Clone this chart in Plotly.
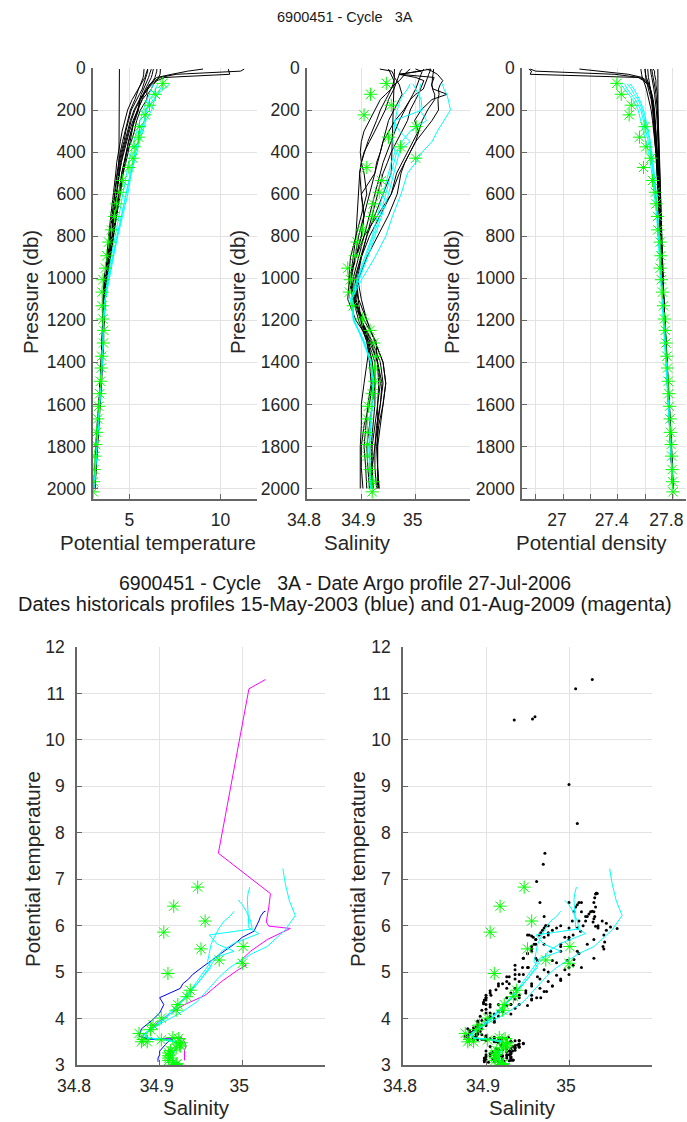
import plotly.graph_objects as go

W, H = 687, 1122

# ---------------- data ----------------
P_HIST = [5, 15, 30, 45, 60, 80, 100, 125, 150, 200, 250, 300, 350, 400, 450, 500,
          600, 700, 800, 900, 1000, 1100, 1200, 1300, 1400, 1500, 1600, 1700, 1800, 1900, 2000]

H1_T = [6.0, 6.0, 5.95, 5.9, 5.85, 5.8, 5.7, 5.55, 5.4, 5.1, 4.95, 4.8, 4.7, 4.55, 4.45, 4.35,
        4.2, 4.05, 3.9, 3.78, 3.65, 3.58, 3.55, 3.52, 3.47, 3.4, 3.33, 3.26, 3.2, 3.13, 3.08]
H1_S = [34.975, 34.972, 34.97, 34.968, 34.966, 34.964, 34.96, 34.955, 34.95, 34.944, 34.935, 34.925, 34.915, 34.905, 34.9, 34.897,
        34.9, 34.905, 34.9, 34.89, 34.88, 34.885, 34.895, 34.91, 34.92, 34.925, 34.92, 34.915, 34.91, 34.912, 34.915]
H1_D = [27.62, 27.62, 27.62, 27.625, 27.63, 27.635, 27.64, 27.645, 27.65, 27.66, 27.665, 27.67, 27.675, 27.68, 27.685, 27.69,
        27.697, 27.705, 27.712, 27.718, 27.724, 27.732, 27.74, 27.75, 27.758, 27.766, 27.774, 27.782, 27.79, 27.797, 27.803]

H2_T = [6.7, 6.7, 6.68, 6.6, 6.5, 6.3, 6.2, 6.0, 5.95, 5.6, 5.4, 5.27, 5.1, 4.85, 4.7, 4.58,
        4.45, 4.28, 4.1, 3.92, 3.78, 3.68, 3.62, 3.58, 3.52, 3.45, 3.38, 3.3, 3.22, 3.15, 3.09]
H2_S = [35.033, 35.033, 35.032, 35.031, 35.03, 35.03, 35.031, 35.035, 35.035, 35.022, 35.012, 35.006, 35.0, 34.99, 34.98, 34.973,
        34.966, 34.95, 34.93, 34.91, 34.895, 34.89, 34.9, 34.92, 34.935, 34.94, 34.935, 34.928, 34.925, 34.925, 34.928]
H2_D = [27.57, 27.57, 27.575, 27.58, 27.59, 27.6, 27.61, 27.62, 27.63, 27.645, 27.655, 27.665, 27.672, 27.68, 27.686, 27.69,
        27.698, 27.706, 27.713, 27.72, 27.727, 27.735, 27.744, 27.753, 27.761, 27.769, 27.777, 27.785, 27.792, 27.799, 27.805]

# historical profile 15-May-2003 (blue)
HB_T = [6.31, 6.3, 6.25, 6.2, 6.1, 6.0, 5.88, 5.75, 5.6, 5.45, 5.25, 5.1, 4.95, 4.85, 4.75, 4.65,
        4.45, 4.3, 4.12, 3.95, 3.78, 3.62, 3.55, 3.56, 3.5, 3.4, 3.3, 3.22, 3.15, 3.1, 3.07]
HB_S = [35.028, 35.026, 35.024, 35.022, 35.02, 35.017, 35.014, 35.0, 34.99, 34.978, 34.962, 34.951, 34.94, 34.935, 34.928, 34.925,
        34.9, 34.905, 34.9, 34.89, 34.878, 34.875, 34.89, 34.916, 34.91, 34.905, 34.9, 34.9, 34.898, 34.898, 34.898]
HB_D = [27.6, 27.6, 27.6, 27.605, 27.61, 27.615, 27.625, 27.635, 27.645, 27.655, 27.66, 27.667, 27.673, 27.68, 27.686, 27.69,
        27.696, 27.704, 27.711, 27.718, 27.725, 27.732, 27.74, 27.75, 27.757, 27.765, 27.773, 27.781, 27.789, 27.796, 27.802]

# historical profile 01-Aug-2009 (magenta)
HM_T = [11.3, 11.1, 7.56, 6.69, 6.4, 6.08, 5.99, 5.94, 5.7, 5.45, 5.25, 5.15, 5.05, 4.93, 4.8, 4.65,
        4.5, 4.3, 4.02, 3.8, 3.6, 3.55, 3.57, 3.59, 3.5, 3.4, 3.32, 3.25, 3.18, 3.13, 3.1]
HM_S = [35.028, 35.008, 34.971, 35.034, 35.032, 35.029, 35.032, 35.058, 35.03, 35.01, 34.998, 35.005, 34.995, 34.985, 34.975, 34.965,
        34.955, 34.93, 34.905, 34.89, 34.878, 34.885, 34.905, 34.927, 34.93, 34.932, 34.93, 34.93, 34.93, 34.93, 34.93]
HM_D = [26.76, 26.8, 27.38, 27.56, 27.6, 27.63, 27.64, 27.645, 27.655, 27.665, 27.672, 27.678, 27.683, 27.688, 27.692, 27.696,
        27.702, 27.708, 27.714, 27.72, 27.728, 27.736, 27.745, 27.754, 27.762, 27.77, 27.778, 27.786, 27.793, 27.8, 27.806]

H5_T = [10.43, 10.45, 10.5, 6.95, 6.5, 6.2, 6.0, 5.8, 5.6, 5.3, 5.1, 4.95, 4.8, 4.65, 4.55, 4.45,
        4.3, 4.12, 3.96, 3.82, 3.7, 3.62, 3.58, 3.55, 3.5, 3.43, 3.36, 3.28, 3.2, 3.14, 3.08]
H5_S = [34.934, 34.956, 34.959, 34.961, 34.965, 34.97, 34.972, 34.975, 34.97, 34.96, 34.95, 34.945, 34.94, 34.935, 34.93, 34.925,
        34.915, 34.905, 34.895, 34.888, 34.882, 34.888, 34.9, 34.915, 34.93, 34.938, 34.935, 34.93, 34.925, 34.92, 34.92]
H5_D = [26.75, 26.77, 26.76, 27.55, 27.59, 27.62, 27.635, 27.645, 27.655, 27.665, 27.67, 27.676, 27.682, 27.687, 27.691, 27.695,
        27.701, 27.708, 27.714, 27.72, 27.726, 27.734, 27.743, 27.752, 27.76, 27.768, 27.776, 27.784, 27.791, 27.798, 27.804]

H6_T = [9.04, 8.2, 7.32, 6.5, 6.3, 6.1, 5.95, 5.8, 5.7, 5.45, 5.2, 5.0, 4.85, 4.7, 4.55, 4.45,
        4.3, 4.15, 4.0, 3.85, 3.72, 3.63, 3.58, 3.56, 3.52, 3.46, 3.38, 3.3, 3.22, 3.15, 3.1]
H6_S = [35.0, 35.01, 34.969, 35.0, 35.015, 35.012, 35.01, 35.005, 35.0, 34.99, 34.985, 34.975, 34.965, 34.955, 34.948, 34.94,
        34.93, 34.92, 34.91, 34.9, 34.893, 34.9, 34.91, 34.925, 34.94, 34.945, 34.94, 34.932, 34.928, 34.93, 34.932]
H6_D = [27.12, 27.25, 27.48, 27.58, 27.61, 27.63, 27.64, 27.65, 27.655, 27.665, 27.672, 27.678, 27.684, 27.69, 27.694, 27.698,
        27.704, 27.71, 27.716, 27.722, 27.729, 27.737, 27.746, 27.755, 27.763, 27.771, 27.779, 27.787, 27.794, 27.8, 27.806]

H7_T = [6.0, 5.95, 5.9, 5.85, 5.75, 5.6, 5.45, 5.3, 5.15, 4.9, 4.75, 4.6, 4.5, 4.4, 4.3, 4.25,
        4.1, 3.98, 3.86, 3.75, 3.63, 3.56, 3.53, 3.5, 3.46, 3.4, 3.33, 3.25, 3.18, 3.12, 3.06]
H7_S = [34.99, 34.985, 34.98, 34.975, 34.97, 34.96, 34.955, 34.945, 34.935, 34.925, 34.915, 34.905, 34.9, 34.898, 34.9, 34.905,
        34.91, 34.9, 34.89, 34.88, 34.877, 34.885, 34.9, 34.912, 34.92, 34.92, 34.915, 34.905, 34.9, 34.9, 34.903]
H7_D = [27.65, 27.65, 27.655, 27.66, 27.665, 27.67, 27.675, 27.68, 27.685, 27.69, 27.695, 27.698, 27.701, 27.704, 27.707, 27.71,
        27.714, 27.718, 27.722, 27.726, 27.73, 27.737, 27.745, 27.753, 27.76, 27.767, 27.775, 27.782, 27.789, 27.796, 27.802]

H8_T = [6.5, 6.5, 6.45, 6.4, 6.3, 6.1, 5.95, 5.75, 5.55, 5.25, 5.05, 4.9, 4.75, 4.6, 4.5, 4.42,
        4.28, 4.15, 4.0, 3.86, 3.74, 3.66, 3.6, 3.56, 3.5, 3.42, 3.35, 3.28, 3.2, 3.14, 3.08]
H8_S = [35.015, 35.012, 35.01, 35.008, 35.006, 35.004, 35.0, 34.995, 34.99, 34.98, 34.97, 34.962, 34.955, 34.948, 34.94, 34.935,
        34.925, 34.915, 34.905, 34.895, 34.885, 34.89, 34.9, 34.918, 34.93, 34.935, 34.93, 34.925, 34.92, 34.92, 34.922]
H8_D = [27.6, 27.6, 27.605, 27.61, 27.62, 27.63, 27.64, 27.65, 27.66, 27.67, 27.675, 27.68, 27.685, 27.69, 27.694, 27.698,
        27.704, 27.71, 27.716, 27.722, 27.728, 27.736, 27.744, 27.752, 27.76, 27.768, 27.776, 27.784, 27.791, 27.798, 27.804]

H9_T = [6.2, 6.15, 6.1, 6.05, 5.97, 5.9, 5.8, 5.65, 5.55, 5.5, 5.3, 5.1, 4.95, 4.82, 4.7, 4.58,
        4.4, 4.22, 4.05, 3.9, 3.75, 3.65, 3.6, 3.57, 3.53, 3.47, 3.4, 3.32, 3.24, 3.17, 3.11]
H9_S = [35.02, 35.03, 35.04, 35.045, 35.05, 35.045, 35.042, 35.043, 35.041, 35.042, 35.03, 35.015, 35.0, 34.99, 34.98, 34.97,
        34.955, 34.935, 34.915, 34.9, 34.89, 34.895, 34.91, 34.925, 34.94, 34.945, 34.94, 34.935, 34.93, 34.93, 34.933]
H9_D = [27.66, 27.67, 27.67, 27.675, 27.68, 27.68, 27.685, 27.69, 27.69, 27.695, 27.697, 27.7, 27.703, 27.706, 27.708, 27.71,
        27.714, 27.718, 27.722, 27.726, 27.731, 27.738, 27.746, 27.754, 27.762, 27.77, 27.778, 27.786, 27.793, 27.8, 27.806]

H10_T = [5.8, 5.8, 5.78, 5.75, 5.7, 5.6, 5.5, 5.4, 5.3, 5.05, 4.9, 4.75, 4.62, 4.5, 4.4, 4.32,
         4.18, 4.05, 3.92, 3.8, 3.68, 3.6, 3.55, 3.52, 3.48, 3.42, 3.35, 3.27, 3.2, 3.13, 3.07]
H10_S = [34.95, 34.952, 34.955, 34.957, 34.96, 34.958, 34.955, 34.95, 34.945, 34.935, 34.928, 34.92, 34.912, 34.906, 34.9, 34.897,
         34.895, 34.893, 34.89, 34.885, 34.88, 34.887, 34.898, 34.91, 34.915, 34.918, 34.912, 34.908, 34.905, 34.908, 34.91]
H10_D = [27.64, 27.64, 27.645, 27.65, 27.655, 27.66, 27.665, 27.67, 27.675, 27.683, 27.688, 27.692, 27.696, 27.7, 27.703, 27.706,
         27.71, 27.714, 27.718, 27.722, 27.727, 27.734, 27.742, 27.75, 27.758, 27.766, 27.774, 27.782, 27.79, 27.797, 27.803]

# sparse historical profile (few levels)
P_H0 = [5, 500, 600, 800, 1000, 1200, 1400, 1600, 1800, 2000]
H0_T = [4.45, 4.42, 4.3, 3.95, 3.66, 3.56, 3.47, 3.35, 3.2, 3.08]
H0_S = [34.961, 34.955, 34.94, 34.91, 34.888, 34.9, 34.925, 34.925, 34.918, 34.92]
H0_D = [27.694, 27.697, 27.705, 27.715, 27.725, 27.742, 27.758, 27.774, 27.79, 27.803]

# cyan profiles
P_CYAN = [75, 100, 125, 150, 200, 250, 300, 350, 400, 450, 500, 600, 700, 800, 900, 1000,
          1100, 1200, 1300, 1400, 1500, 1600, 1700, 1800, 1900, 2000]
C1_T = [7.23, 6.9, 6.53, 6.38, 6.22, 5.91, 5.72, 5.55, 5.4, 5.27, 5.1, 4.91, 4.62, 4.36, 4.12, 3.9,
        3.68, 3.58, 3.56, 3.52, 3.44, 3.37, 3.3, 3.22, 3.14, 3.07]
C1_S = [35.049, 35.052, 35.057, 35.06, 35.064, 35.052, 35.04, 35.03, 35.012, 35.0, 34.985, 34.973, 34.958, 34.945, 34.925, 34.902,
        34.882, 34.885, 34.905, 34.918, 34.922, 34.92, 34.917, 34.915, 34.916, 34.918]
C1_D = [27.42, 27.45, 27.48, 27.51, 27.55, 27.57, 27.59, 27.61, 27.625, 27.64, 27.65, 27.67, 27.685, 27.695, 27.705, 27.715,
        27.725, 27.735, 27.745, 27.755, 27.763, 27.772, 27.78, 27.788, 27.796, 27.802]
C2_T = [6.83, 6.7, 6.56, 6.3, 5.95, 5.83, 5.62, 5.45, 5.32, 5.2, 5.1, 4.85, 4.58, 4.32, 4.08, 3.86,
        3.68, 3.58, 3.55, 3.5, 3.43, 3.36, 3.29, 3.21, 3.13, 3.06]
C2_S = [35.009, 35.007, 35.006, 35.007, 35.008, 35.02, 34.99, 34.975, 34.97, 34.964, 34.96, 34.95, 34.938, 34.925, 34.912, 34.897,
        34.883, 34.886, 34.903, 34.917, 34.922, 34.92, 34.916, 34.914, 34.915, 34.917]
C2_D = [27.45, 27.47, 27.5, 27.53, 27.57, 27.59, 27.61, 27.625, 27.64, 27.65, 27.66, 27.675, 27.69, 27.7, 27.71, 27.718,
        27.727, 27.737, 27.746, 27.756, 27.764, 27.773, 27.781, 27.789, 27.797, 27.803]
C3_T = [6.55, 6.45, 6.3, 6.1, 5.93, 5.8, 5.6, 5.45, 5.3, 5.18, 5.05, 4.8, 4.55, 4.3, 4.05, 3.84,
        3.67, 3.58, 3.55, 3.5, 3.43, 3.36, 3.29, 3.21, 3.13, 3.06]
C3_S = [34.995, 35.0, 35.005, 35.01, 35.012, 34.96, 34.97, 34.99, 34.965, 34.96, 34.955, 34.945, 34.935, 34.922, 34.908, 34.894,
        34.881, 34.887, 34.905, 34.918, 34.922, 34.919, 34.916, 34.914, 34.915, 34.917]
C3_D = [27.47, 27.5, 27.52, 27.55, 27.58, 27.6, 27.62, 27.635, 27.645, 27.655, 27.665, 27.68, 27.692, 27.702, 27.712, 27.72,
        27.728, 27.738, 27.747, 27.757, 27.765, 27.774, 27.782, 27.79, 27.797, 27.803]
C4_T = [6.31, 6.2, 6.1, 5.95, 5.75, 5.59, 5.4, 5.23, 5.1, 4.95, 4.85, 4.65, 4.45, 4.22, 4.0, 3.8,
        3.65, 3.57, 3.55, 3.5, 3.43, 3.36, 3.29, 3.21, 3.13, 3.06]
C4_S = [34.99, 34.985, 34.978, 34.972, 34.966, 34.962, 34.96, 34.958, 34.962, 34.955, 34.95, 34.94, 34.93, 34.92, 34.906, 34.893,
        34.88, 34.886, 34.904, 34.918, 34.922, 34.92, 34.917, 34.915, 34.916, 34.918]
C4_D = [27.49, 27.52, 27.54, 27.56, 27.59, 27.61, 27.625, 27.64, 27.65, 27.66, 27.668, 27.683, 27.695, 27.705, 27.713, 27.721,
        27.729, 27.739, 27.748, 27.757, 27.765, 27.774, 27.782, 27.79, 27.797, 27.803]

# Argo profile 6900451 cycle 3A (green asterisks)
P_ARGO = [73, 125, 177, 223, 279, 329, 375, 429, 473, 535, 591, 646, 706, 770, 828, 893, 952, 1007, 1066,
          1131, 1194, 1248, 1308, 1371, 1427, 1490, 1549, 1609, 1669, 1733, 1791, 1846, 1910, 1968, 2016]
T_ARGO = [6.83, 6.42, 6.10, 5.86, 5.55, 5.50, 5.26, 5.19, 4.97, 4.61, 4.47, 4.30, 4.18, 4.01, 3.86, 3.76, 3.68, 3.55, 3.50,
          3.50, 3.54, 3.59, 3.57, 3.48, 3.45, 3.41, 3.37, 3.31, 3.26, 3.20, 3.15, 3.10, 3.06, 3.03, 3.01]
S_ARGO = [34.946, 34.917, 34.955, 34.905, 35.001, 34.950, 34.972, 35.000, 34.910, 34.937, 34.933, 34.922, 34.920, 34.902,
          34.892, 34.889, 34.875, 34.880, 34.878, 34.885, 34.902, 34.916, 34.923, 34.926, 34.924, 34.925, 34.920, 34.913,
          34.911, 34.911, 34.911, 34.911, 34.916, 34.921, 34.920]
D_ARGO = [27.394, 27.426, 27.50, 27.484, 27.60, 27.56, 27.607, 27.643, 27.589, 27.655, 27.675, 27.682, 27.692, 27.694,
          27.711, 27.716, 27.711, 27.72, 27.728, 27.735, 27.742, 27.748, 27.754, 27.76, 27.765, 27.77, 27.775, 27.779,
          27.783, 27.787, 27.791, 27.795, 27.799, 27.802, 27.805]

HIST = [(P_H0, H0_T, H0_S, H0_D), (P_HIST, H1_T, H1_S, H1_D), (P_HIST, H2_T, H2_S, H2_D),
        (P_HIST, HB_T, HB_S, HB_D), (P_HIST, HM_T, HM_S, HM_D), (P_HIST, H5_T, H5_S, H5_D),
        (P_HIST, H6_T, H6_S, H6_D), (P_HIST, H7_T, H7_S, H7_D), (P_HIST, H8_T, H8_S, H8_D),
        (P_HIST, H9_T, H9_S, H9_D), (P_HIST, H10_T, H10_S, H10_D)]
CYAN = [(C1_T, C1_S, C1_D), (C2_T, C2_S, C2_D), (C3_T, C3_S, C3_D), (C4_T, C4_S, C4_D)]

# ---------------- figure ----------------
fig = go.Figure()
BLK = dict(color='black', width=1)
CYN = dict(color='#00ffff', width=1)
STAR = dict(symbol='asterisk-open', size=11, color='#00ff00', line=dict(color='#00ff00', width=1))

# top panels
for (p, t, s, d) in HIST:
    fig.add_trace(go.Scatter(x=t, y=p, mode='lines', line=BLK, xaxis='x', yaxis='y'))
    fig.add_trace(go.Scatter(x=s, y=p, mode='lines', line=BLK, xaxis='x2', yaxis='y2'))
    fig.add_trace(go.Scatter(x=d, y=p, mode='lines', line=BLK, xaxis='x3', yaxis='y3'))
for (t, s, d) in CYAN:
    fig.add_trace(go.Scatter(x=t, y=P_CYAN, mode='lines', line=CYN, xaxis='x', yaxis='y'))
    fig.add_trace(go.Scatter(x=s, y=P_CYAN, mode='lines', line=CYN, xaxis='x2', yaxis='y2'))
    fig.add_trace(go.Scatter(x=d, y=P_CYAN, mode='lines', line=CYN, xaxis='x3', yaxis='y3'))
fig.add_trace(go.Scatter(x=T_ARGO, y=P_ARGO, mode='markers', marker=STAR, xaxis='x', yaxis='y'))
fig.add_trace(go.Scatter(x=S_ARGO, y=P_ARGO, mode='markers', marker=STAR, xaxis='x2', yaxis='y2'))
fig.add_trace(go.Scatter(x=D_ARGO, y=P_ARGO, mode='markers', marker=STAR, xaxis='x3', yaxis='y3'))

# bottom-left: theta-S with blue / magenta historical profiles
fig.add_trace(go.Scatter(x=HM_S, y=HM_T, mode='lines', line=dict(color='#ff00ff', width=1), xaxis='x4', yaxis='y4'))
fig.add_trace(go.Scatter(x=HB_S, y=HB_T, mode='lines', line=dict(color='#0000ff', width=1), xaxis='x4', yaxis='y4'))
for (t, s, d) in CYAN:
    fig.add_trace(go.Scatter(x=s, y=t, mode='lines', line=CYN, xaxis='x4', yaxis='y4'))
fig.add_trace(go.Scatter(x=S_ARGO, y=T_ARGO, mode='markers', marker=STAR, xaxis='x4', yaxis='y4'))

# bottom-right: theta-S with all historical points
all_s, all_t = [], []
for (p, t, s, d) in HIST:
    all_s += s
    all_t += t
fig.add_trace(go.Scatter(x=all_s, y=all_t, mode='markers', marker=dict(color='black', size=3),
                         xaxis='x5', yaxis='y5'))
for (t, s, d) in CYAN:
    fig.add_trace(go.Scatter(x=s, y=t, mode='lines', line=CYN, xaxis='x5', yaxis='y5'))
fig.add_trace(go.Scatter(x=S_ARGO, y=T_ARGO, mode='markers', marker=STAR, xaxis='x5', yaxis='y5'))


def xd(a, b):
    return [a / W, b / W]


def yd(top, bot):
    return [1 - bot / H, 1 - top / H]


FONT = 'Liberation Sans, Arial, Helvetica, sans-serif'
TXT = '#262626'
AX = dict(showgrid=True, gridcolor='#e3e3e3', gridwidth=1, showline=True, linecolor='#666666',
          linewidth=1.5, ticks='inside', ticklen=5, tickcolor='#666666', tickwidth=1,
          tickfont=dict(family=FONT, size=17.5, color=TXT), zeroline=False, mirror=False,
          fixedrange=True, automargin=False, ticklabeloverflow='allow')

SAL_TICKS = [34.8, 34.9, 35.0]
SAL_TEXT = ['34.8', '34.9', '35']
P_TICKS = list(range(0, 2001, 200))
TH_TICKS = list(range(3, 13))

top_y = yd(68, 499)
bot_y = yd(647, 1065)

fig.update_layout(
    width=W, height=H, margin=dict(l=0, r=0, t=0, b=0, pad=0, autoexpand=False),
    paper_bgcolor='white', plot_bgcolor='white', showlegend=False,
    font=dict(family=FONT, color=TXT),
    xaxis=dict(AX, domain=xd(93, 257), range=[3, 12], tickvals=[5, 10], anchor='y', ticklabelstandoff=4),
    yaxis=dict(AX, domain=top_y, range=[2050, 0], tickvals=P_TICKS, anchor='x', ticklabelstandoff=2),
    xaxis2=dict(AX, domain=xd(307, 470), range=[34.8, 35.1], tickvals=SAL_TICKS, ticktext=SAL_TEXT,
                anchor='y2', ticklabelstandoff=4, ticklabelshift=-3),
    yaxis2=dict(AX, domain=top_y, range=[2050, 0], tickvals=P_TICKS, anchor='x2', ticklabelstandoff=2),
    xaxis3=dict(AX, domain=xd(522, 686), range=[26.7, 27.9],
                tickvals=[26.8, 27.0, 27.2, 27.4, 27.6, 27.8], ticktext=['', '27', '', '27.4', '', '27.8'],
                anchor='y3', ticklabelstandoff=4, ticklabelshift=-6),
    yaxis3=dict(AX, domain=top_y, range=[2050, 0], tickvals=P_TICKS, anchor='x3', ticklabelstandoff=2),
    xaxis4=dict(AX, domain=xd(77, 325), range=[34.8, 35.1], tickvals=SAL_TICKS, ticktext=SAL_TEXT,
                anchor='y4', ticklabelstandoff=4, ticklabelshift=-3),
    yaxis4=dict(AX, domain=bot_y, range=[3, 12], tickvals=TH_TICKS, anchor='x4', ticklabelstandoff=7),
    xaxis5=dict(AX, domain=xd(403, 652), range=[34.8, 35.1], tickvals=SAL_TICKS, ticktext=SAL_TEXT,
                anchor='y5', ticklabelstandoff=4, ticklabelshift=-3),
    yaxis5=dict(AX, domain=bot_y, range=[3, 12], tickvals=TH_TICKS, anchor='x5', ticklabelstandoff=7),
)


def ann(text, x, y, size, angle=0, color=TXT):
    return dict(text=text, x=x / W, y=1 - y / H, xref='paper', yref='paper', showarrow=False,
                xanchor='center', yanchor='middle', textangle=angle,
                font=dict(family=FONT, size=size, color=color))


NB = '\u00a0'
annotations = [
    ann('6900451 - Cycle' + NB * 3 + '3A', 345, 17, 14.5, color='#1a1a1a'),
    ann('6900451 - Cycle' + NB * 3 + '3A - Date Argo profile 27-Jul-2006', 345, 583, 19.5, color='#1a1a1a'),
    ann('Dates historicals profiles 15-May-2003 (blue) and 01-Aug-2009 (magenta)', 345, 604, 20, color='#1a1a1a'),
    ann('Potential temperature', 158, 543, 20.5),
    ann('Salinity', 357, 543, 20.5),
    ann('Potential density', 591, 543, 20.5),
    ann('Pressure (db)', 30, 292, 20.5, angle=-90),
    ann('Pressure (db)', 237, 292, 20.5, angle=-90),
    ann('Pressure (db)', 451, 292, 20.5, angle=-90),
    ann('Salinity', 196, 1107, 20.5),
    ann('Salinity', 522, 1107, 20.5),
    ann('Potential temperature', 32, 869, 20.5, angle=-90),
    ann('Potential temperature', 357, 869, 20.5, angle=-90),
]
fig.update_layout(annotations=annotations)

fig.write_html('out.html')
